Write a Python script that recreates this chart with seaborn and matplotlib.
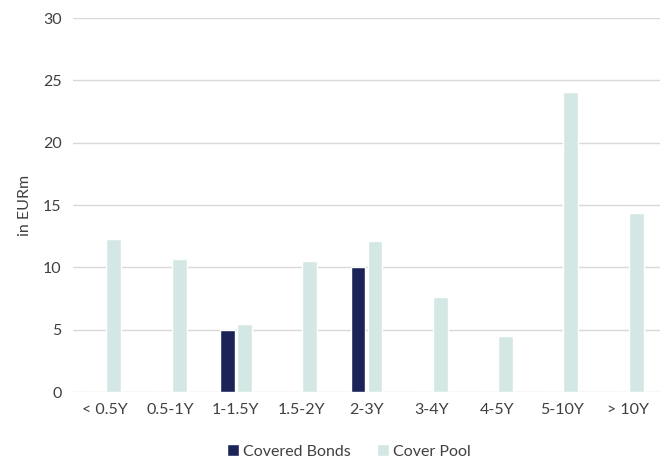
import numpy as np
import pandas as pd
import matplotlib.pyplot as plt
import seaborn as sns

# maturity buckets and amounts (EURm)
buckets = ['< 0.5Y', '0.5-1Y', '1-1.5Y', '1.5-2Y', '2-3Y', '3-4Y', '4-5Y', '5-10Y', '> 10Y']
covered_bonds = [0, 0, 5.0, 0, 10.0, 0, 0, 0, 0]
cover_pool = [12.3, 10.7, 5.5, 10.5, 12.1, 7.6, 4.5, 24.1, 14.4]
series = ['Covered Bonds', 'Cover Pool']
colors = ['#1b2357', '#d3e8e4']

df = pd.DataFrame({
    'Bucket': buckets * 2,
    'Series': [series[0]] * len(buckets) + [series[1]] * len(buckets),
    'Value': covered_bonds + cover_pool,
})

sns.set_theme(style='white')
plt.rcParams['font.family'] = ['Lato', 'DejaVu Sans']

fig = plt.figure(figsize=(6.67, 4.63), dpi=100)
ax = fig.add_axes([0.109, 0.153, 0.881, 0.808])

sns.barplot(data=df, x='Bucket', y='Value', hue='Series', order=buckets,
            hue_order=series, palette=colors, width=0.52, gap=0.12,
            saturation=1, ax=ax, legend=True)

ax.set_ylim(0, 30)
ax.set_yticks(range(0, 31, 5))
ax.set_axisbelow(True)
ax.yaxis.grid(True, color='#d9d9d9', linewidth=1)
ax.xaxis.grid(False)
for s in ax.spines.values():
    s.set_visible(False)
ax.tick_params(axis='both', colors='#404040', labelsize=11.5, length=0, pad=8)
ax.set_xlabel('')
ax.set_ylabel('in EURm', fontsize=11.5, color='#404040', labelpad=8)
ax.set_xlim(-0.5, len(buckets) - 0.5)

ax.legend(loc='upper center', bbox_to_anchor=(0.47, -0.1), ncol=2, frameon=False,
          fontsize=11.5, handlelength=0.8, handleheight=0.8, handletextpad=0.25,
          columnspacing=1.6, labelcolor='#404040')

fig.savefig('out.png', dpi=100)
